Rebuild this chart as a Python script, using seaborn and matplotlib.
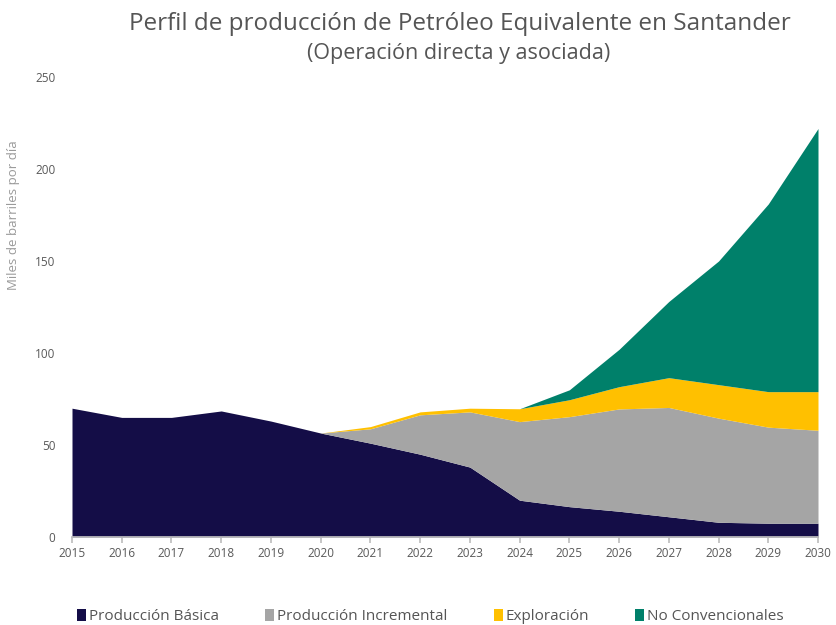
import matplotlib.pyplot as plt
import seaborn as sns
import numpy as np

# Datos (miles de barriles por día)
anios = list(range(2015, 2031))
basica = [70, 65, 65, 68.5, 63, 56.5, 51, 45, 38, 20, 16.5, 14, 11, 8, 7.5, 7.5]
incremental = [0, 0, 0, 0, 0, 0, 7.8, 21.4, 30, 42.7, 48.9, 55.6, 59.4, 56.6, 52.2, 50.5]
exploracion = [0, 0, 0, 0, 0, 0, 1.2, 1.6, 2, 7, 9.2, 12.1, 16.2, 18.2, 19.3, 21]
no_convencionales = [0, 0, 0, 0, 0, 0, 0, 0, 0, 0, 5.4, 20.3, 41.4, 67.2, 102, 143]

series = ["Producción Básica", "Producción Incremental", "Exploración", "No Convencionales"]
colores = ["#140D47", "#A5A5A5", "#FFC000", "#00806A"]

sns.set_theme(style="white")
plt.rcParams['font.family'] = ['Open Sans', 'DejaVu Sans']

fig = plt.figure(figsize=(8.36, 6.25), dpi=100)
ax = fig.add_axes([72 / 836, (625 - 537) / 625, (818 - 72) / 836, (537 - 77) / 625])

ax.stackplot(anios, basica, incremental, exploracion, no_convencionales,
             colors=colores, labels=series, linewidth=0)

ax.set_xlim(2015, 2030)
ax.set_ylim(0, 250)
ax.set_xticks(anios)
ax.set_yticks(range(0, 251, 50))
ax.tick_params(axis='both', labelsize=8.5, colors="#595959")
ax.tick_params(axis='y', pad=6)
ax.tick_params(axis='x', bottom=True, length=4, color="#BFBFBF")
for s in ["top", "right", "left"]:
    ax.spines[s].set_visible(False)
ax.spines["bottom"].set_color("#BFBFBF")
ax.set_ylabel("Miles de barriles por día", fontsize=9.5, color="#9A9A9A")
ax.yaxis.set_label_coords(-0.07, 0.70)

fig.text(0.55, 0.962, "Perfil de producción de Petróleo Equivalente en Santander",
         ha="center", va="center", fontsize=17.5, color="#555555")
fig.text(0.548, 0.915, "(Operación directa y asociada)",
         ha="center", va="center", fontsize=15.5, color="#555555")

handles, labels = ax.get_legend_handles_labels()
fig.legend(handles, labels, loc="center", bbox_to_anchor=(0.515, 0.013), ncol=4,
           frameon=False, fontsize=11, handlelength=0.6, handleheight=0.8,
           handletextpad=0.2, columnspacing=3.0, labelcolor="#555555")

plt.savefig("out.png", dpi=100)
